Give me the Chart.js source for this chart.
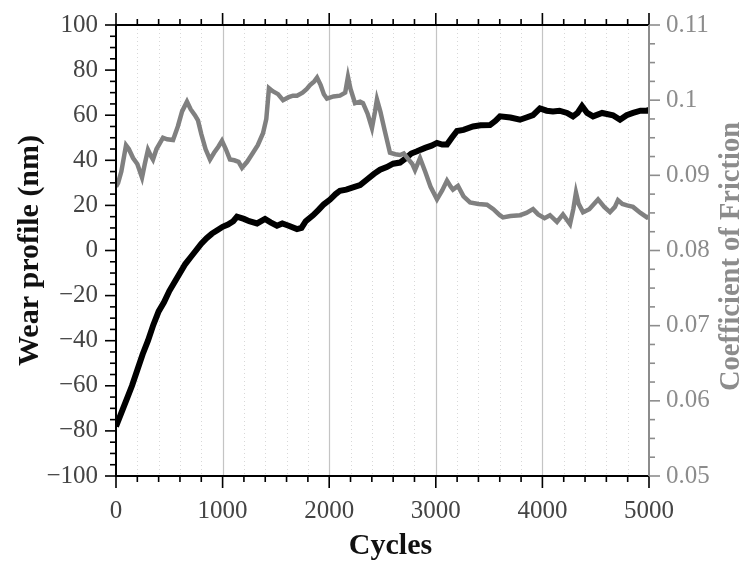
<!DOCTYPE html>
<html>
<head>
<meta charset="utf-8">
<script src="https://cdn.jsdelivr.net/npm/chart.js@4"></script>
<style>
  html, body { margin: 0; padding: 0; background: #fff; }
  #wrap { width: 747px; height: 565px; }
</style>
</head>
<body>
<div id="wrap"><canvas id="wearChart" width="747" height="565"></canvas></div>
<script>
// Wear profile (black curve, left axis)
let wearCycles = [0, 50, 100, 150, 200, 250, 300, 350, 400, 450, 500, 550, 600, 650, 700, 750, 800, 850, 900, 950,
    1000, 1050, 1100, 1135, 1200, 1250, 1323, 1398, 1450, 1510, 1560, 1620, 1698, 1740, 1780, 1848, 1900, 1950,
    2008, 2060, 2101, 2160, 2223, 2290, 2355, 2420, 2477, 2540, 2600, 2664, 2720, 2770, 2824, 2900, 2960,
    3011, 3060, 3105, 3150, 3199, 3260, 3349, 3420, 3508, 3560, 3602, 3700, 3790, 3850, 3912, 3977,
    4040, 4099, 4160, 4231, 4287, 4330, 4372, 4420, 4475, 4560, 4662, 4728, 4790, 4850, 4920, 4981, 5000];
let wearNm = [-78, -72, -66, -60, -53, -46, -40, -33, -27, -23, -18, -14, -10, -6, -3, 0, 3, 5.5, 7.5, 9,
    10.5, 11.5, 13, 15, 14, 13, 12, 14, 12.5, 11, 12, 11, 9.5, 10, 13, 15.6, 18, 20.5,
    22.6, 25, 26.5, 27, 28, 29, 31.5, 34, 35.8, 37, 38.5, 39, 41, 43, 44, 45.5, 46.5,
    47.7, 47, 47, 50, 53, 53.5, 55, 55.5, 55.6, 57.5, 59.5, 59, 58, 59, 60, 63,
    62, 61.7, 62, 61, 59.5, 61, 64, 61, 59.5, 61, 60, 58, 60, 61, 62, 62, 62.5];

// Coefficient of friction (gray curve, right axis)
let cofCycles = [0, 20, 50, 94, 120, 160, 200, 244, 270, 300, 330, 347, 380, 441, 480, 535, 580, 620, 666, 700,
    740, 769, 800, 840, 882, 920, 960, 994, 1030, 1069, 1110, 1150, 1182, 1230, 1285, 1330, 1379, 1410, 1435,
    1470, 1520, 1567, 1620, 1660, 1698, 1750, 1790, 1820, 1860, 1886, 1920, 1950, 1979, 2040, 2101, 2150, 2176,
    2200, 2242, 2290, 2317, 2360, 2401, 2430, 2448, 2480, 2520, 2570, 2620, 2664, 2700, 2740, 2780, 2805, 2852,
    2900, 2950, 3011, 3060, 3105, 3140, 3161, 3208, 3260, 3321, 3400, 3480, 3540, 3600, 3630, 3700, 3790, 3850,
    3912, 3960, 4020, 4071, 4137, 4193, 4259, 4290, 4315, 4340, 4381, 4440, 4522, 4580, 4634, 4680, 4709, 4750,
    4794, 4850, 4920, 4981, 5000];
let cof = [0.0885, 0.0890, 0.0905, 0.0940, 0.0935, 0.0923, 0.0915, 0.0897, 0.0915, 0.0934, 0.0925, 0.0921, 0.0935,
    0.0950, 0.0948, 0.0947, 0.0965, 0.0985, 0.0998, 0.0988, 0.0980, 0.0973, 0.0955, 0.0935, 0.0921, 0.0930,
    0.0938, 0.0946, 0.0935, 0.0921, 0.0920, 0.0918, 0.0910, 0.0918, 0.0930, 0.0940, 0.0956, 0.0975, 0.1016,
    0.1012, 0.1008, 0.1000, 0.1004, 0.1006, 0.1006, 0.1010, 0.1015, 0.1020, 0.1025, 0.1030, 0.1020, 0.1008,
    0.1002, 0.1005, 0.1006, 0.1010, 0.1031, 0.1015, 0.0996, 0.0998, 0.0996, 0.0982, 0.0963, 0.0985, 0.1001,
    0.0985, 0.0960, 0.0930, 0.0928, 0.0927, 0.0929, 0.0922, 0.0915, 0.0907, 0.0923, 0.0905, 0.0885, 0.0868,
    0.0880, 0.0893, 0.0885, 0.0881, 0.0886, 0.0872, 0.0864, 0.0862, 0.0861, 0.0855, 0.0847, 0.0844, 0.0846,
    0.0847, 0.0850, 0.0855, 0.0848, 0.0843, 0.0847, 0.0838, 0.0848, 0.0835, 0.0855, 0.0877, 0.0862, 0.0851,
    0.0855, 0.0868, 0.0858, 0.0851, 0.0858, 0.0867, 0.0862, 0.0860, 0.0858, 0.0850, 0.0844, 0.0845];

// Axis ranges / ticks
let xRange = [0, 5000], xMajor = 1000, xMinor = 200;
let wearRange = [-100, 100], wearMajor = 20, wearMinor = 5;
let cofRange = [0.05, 0.11], cofMajor = 0.01, cofMinor = 0.0025;

const grayColor = '#808080';
const axisGray = '#8c8c8c';

function toPoints(xs, ys) {
    return xs.map((x, i) => ({ x: x, y: ys[i] }));
}

// draws grid, axis lines, minor/major tick marks and axis titles
const framePlugin = {
    id: 'frame',
    beforeDatasetsDraw(chart) {
        let ctx = chart.ctx, a = chart.chartArea, sx = chart.scales.x;
        ctx.save();
        for (let v = xRange[0] + xMinor; v < xRange[1]; v += xMinor) {
            let px = Math.round(sx.getPixelForValue(v)) + 0.5;
            ctx.beginPath();
            if (v % xMajor === 0) {
                ctx.strokeStyle = '#c4c4c4';
                ctx.lineWidth = 1.2;
                ctx.setLineDash([]);
            } else {
                ctx.strokeStyle = '#d8d8d8';
                ctx.lineWidth = 1;
                ctx.setLineDash([1, 3]);
            }
            ctx.moveTo(px, a.top);
            ctx.lineTo(px, a.bottom);
            ctx.stroke();
        }
        ctx.restore();
    },
    afterDraw(chart) {
        let ctx = chart.ctx, a = chart.chartArea;
        let sx = chart.scales.x, sy = chart.scales.y, sy2 = chart.scales.y2;
        ctx.save();
        ctx.setLineDash([]);
        ctx.lineWidth = 1.6;

        // x ticks, bottom and top
        ctx.strokeStyle = '#000';
        for (let v = xRange[0]; v <= xRange[1]; v += xMinor) {
            let px = sx.getPixelForValue(v);
            let len = v % xMajor === 0 ? 12 : 6;
            ctx.beginPath();
            ctx.moveTo(px, a.bottom); ctx.lineTo(px, a.bottom + len);
            ctx.moveTo(px, a.top); ctx.lineTo(px, a.top - len);
            ctx.stroke();
        }
        // left ticks
        for (let v = wearRange[0]; v <= wearRange[1]; v += wearMinor) {
            let py = sy.getPixelForValue(v);
            let len = v % wearMajor === 0 ? 11 : 6;
            ctx.beginPath();
            ctx.moveTo(a.left, py); ctx.lineTo(a.left - len, py);
            ctx.stroke();
        }
        // right ticks
        ctx.strokeStyle = axisGray;
        for (let i = 0; i <= Math.round((cofRange[1] - cofRange[0]) / cofMinor); i++) {
            let v = cofRange[0] + i * cofMinor;
            let py = sy2.getPixelForValue(v);
            let len = i % 4 === 0 ? 11 : 6;
            ctx.beginPath();
            ctx.moveTo(a.right, py); ctx.lineTo(a.right + len, py);
            ctx.stroke();
        }

        // axis lines
        ctx.lineWidth = 2;
        ctx.strokeStyle = '#000';
        ctx.beginPath();
        ctx.moveTo(a.right, a.top); ctx.lineTo(a.left, a.top);
        ctx.lineTo(a.left, a.bottom); ctx.lineTo(a.right, a.bottom);
        ctx.stroke();
        ctx.strokeStyle = axisGray;
        ctx.beginPath();
        ctx.moveTo(a.right, a.top); ctx.lineTo(a.right, a.bottom);
        ctx.stroke();

        // titles
        let midY = (a.top + a.bottom) / 2;
        ctx.font = 'bold 30px "Liberation Serif"';
        ctx.textAlign = 'center';
        ctx.textBaseline = 'middle';
        ctx.fillStyle = '#111';
        ctx.fillText('Cycles', (a.left + a.right) / 2 + 8, 546);

        ctx.save();
        ctx.translate(30, midY);
        ctx.rotate(-Math.PI / 2);
        ctx.fillText('Wear profile (nm)', 0, 0);
        ctx.restore();

        ctx.save();
        ctx.font = 'bold 28.5px "Liberation Serif"';
        ctx.fillStyle = axisGray;
        ctx.translate(732, midY + 6);
        ctx.rotate(-Math.PI / 2);
        ctx.fillText('Coefficient of Friction', 0, 0);
        ctx.restore();

        ctx.restore();
    }
};

function plotWear() {
    let ctx = document.getElementById('wearChart').getContext('2d');
    const tickFont = { family: '"Liberation Serif"', size: 25 };

    new Chart(ctx, {
        type: 'line',
        data: {
            datasets: [{
                label: 'Coefficient of Friction',
                data: toPoints(cofCycles, cof),
                yAxisID: 'y2',
                borderColor: grayColor,
                borderWidth: 4.5,
                pointRadius: 0,
                tension: 0,
                fill: false,
                order: 1
            }, {
                label: 'Wear profile (nm)',
                data: toPoints(wearCycles, wearNm),
                yAxisID: 'y',
                borderColor: '#000',
                borderWidth: 6,
                pointRadius: 0,
                tension: 0,
                fill: false,
                order: 2
            }]
        },
        options: {
            responsive: false,
            animation: false,
            layout: { padding: { top: 10, left: 0, right: 0, bottom: 0 } },
            plugins: {
                legend: { display: false },
                tooltip: { enabled: false }
            },
            scales: {
                x: {
                    type: 'linear',
                    position: 'bottom',
                    min: xRange[0],
                    max: xRange[1],
                    grid: { display: false },
                    border: { display: false },
                    ticks: {
                        stepSize: xMajor,
                        font: tickFont,
                        color: '#444',
                        padding: 12,
                        maxRotation: 0,
                        callback: v => String(v)
                    },
                    afterFit: function(scale) { scale.height = 89; }
                },
                y: {
                    type: 'linear',
                    position: 'left',
                    min: wearRange[0],
                    max: wearRange[1],
                    grid: { display: false },
                    border: { display: false },
                    ticks: {
                        stepSize: wearMajor,
                        font: tickFont,
                        color: '#444',
                        padding: 10,
                        callback: v => v < 0 ? '\u2212' + Math.abs(v) : String(v)
                    },
                    afterFit: function(scale) { scale.width = 116; }
                },
                y2: {
                    type: 'linear',
                    position: 'right',
                    min: cofRange[0],
                    max: cofRange[1],
                    grid: { display: false },
                    border: { display: false },
                    ticks: {
                        stepSize: cofMajor,
                        font: tickFont,
                        color: axisGray,
                        padding: 9,
                        callback: v => String(+v.toFixed(4))
                    },
                    afterFit: function(scale) { scale.width = 98; }
                }
            }
        },
        plugins: [framePlugin]
    });
}

plotWear();
</script>
</body>
</html>
